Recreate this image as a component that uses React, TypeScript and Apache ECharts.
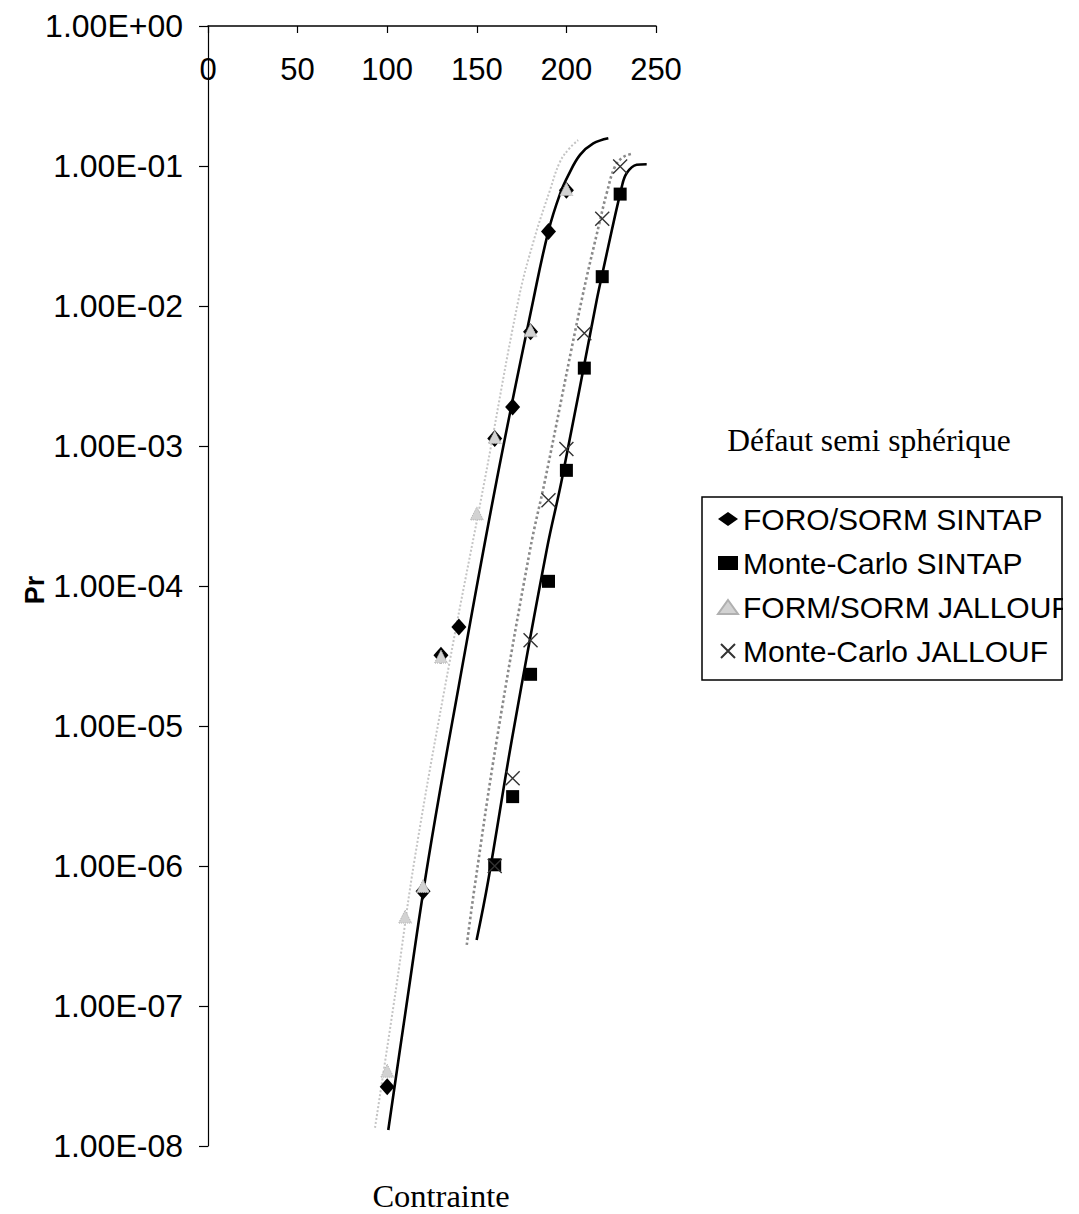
import React, { useEffect, useRef } from "react";
import * as echarts from "echarts";

// ---- Data ----
const seriesNames = [
  "FORO/SORM SINTAP",
  "Monte-Carlo SINTAP",
  "FORM/SORM JALLOUF",
  "Monte-Carlo JALLOUF",
];

const foroSintapX = [100, 120, 130, 140, 160, 170, 180, 190, 200];
const foroSintapY = [2.65e-8, 6.6e-7, 3.2e-5, 5.1e-5, 1.13e-3, 1.9e-3, 6.55e-3, 3.4e-2, 6.7e-2];

const mcSintapX = [160, 170, 180, 190, 200, 210, 220, 230];
const mcSintapY = [1.02e-6, 3.13e-6, 2.34e-5, 1.08e-4, 6.7e-4, 3.6e-3, 1.62e-2, 6.3e-2];

const formJallX = [100, 110, 120, 130, 150, 160, 180, 200];
const formJallY = [3.45e-8, 4.35e-7, 7.2e-7, 3.13e-5, 3.3e-4, 1.16e-3, 6.7e-3, 6.85e-2];

const mcJallX = [160, 170, 180, 190, 200, 210, 220, 230];
const mcJallY = [1.0e-6, 4.23e-6, 4.1e-5, 4.1e-4, 9.5e-4, 6.4e-3, 4.2e-2, 9.9e-2];

// trend curves
const trendForoSintapX = [100.6, 110, 122.9, 140, 161.1, 181.5, 189.9, 196.4, 201.1, 207.6, 215, 223.4];
const trendForoSintapY = [1.3e-8, 8.7e-8, 1.1e-6, 1.95e-5, 5.7e-4, 1.1e-2, 3.4e-2, 6.3e-2, 8.6e-2, 0.12, 0.145, 0.158];

const trendFormJallX = [93.2, 105, 115.5, 135, 154.4, 173.2, 182, 190.8, 196.4, 202, 206.6];
const trendFormJallY = [1.35e-8, 1.35e-7, 1.16e-6, 2.95e-5, 5.7e-4, 1.1e-2, 3.0e-2, 6.7e-2, 0.107, 0.135, 0.153];

const trendMcJallX = [144.4, 149, 161.1, 179.7, 188.1, 208.5, 218.8, 222.5, 227.1, 231.8, 237.3];
const trendMcJallY = [2.73e-7, 7.4e-7, 7.9e-6, 1.81e-4, 5.71e-4, 1.1e-2, 4.1e-2, 6.4e-2, 9.9e-2, 0.116, 0.123];

const trendMcSintapX = [149.9, 156.4, 169.5, 189.0, 197.4, 216.9, 219.7, 230.9, 233.7, 239.2, 244.8];
const trendMcSintapY = [2.96e-7, 7.9e-7, 7.9e-6, 1.81e-4, 5.71e-4, 1.1e-2, 1.62e-2, 7.1e-2, 8.9e-2, 0.102, 0.103];

const xMin = 0;
const xMax = 250;
const xStep = 50;
const yMin = 1e-8;
const yMax = 1;

const xTitle = "Contrainte";
const yTitle = "Pr";
const sideTitle = "Défaut semi sphérique";

const pairs = (xs: number[], ys: number[]) => xs.map((x, i) => [x, ys[i]]);

const fmtExp = (v: number) => {
  const e = Math.round(Math.log10(v));
  const sign = e < 0 ? "-" : "+";
  const a = Math.abs(e);
  return "1.00E" + sign + (a < 10 ? "0" + a : String(a));
};

const SANS = "'Liberation Sans', Arial, sans-serif";
const SERIF = "'Liberation Serif', 'Times New Roman', serif";

const X_PATH = "path://M0,0L10,10M10,0L0,10";

export default function App() {
  const ref = useRef<HTMLDivElement>(null);

  useEffect(() => {
    if (!ref.current) return;
    const chart = echarts.init(ref.current, undefined, { renderer: "svg" });

    const trendLine = (name: string, xs: number[], ys: number[], color: string, width: number, type: any) => ({
      name,
      type: "line",
      data: pairs(xs, ys),
      showSymbol: false,
      symbol: "none",
      smooth: 0.4,
      lineStyle: { color, width, type },
      silent: true,
      z: 1,
    });

    chart.setOption({
      animation: false,
      backgroundColor: "#ffffff",
      grid: { left: 208, top: 26, width: 448, height: 1120, containLabel: false },
      xAxis: {
        type: "value",
        position: "top",
        min: xMin,
        max: xMax,
        interval: xStep,
        axisLine: { show: true, onZero: false, lineStyle: { color: "#000", width: 1.5 } },
        axisTick: { show: true, inside: true, length: 7, lineStyle: { color: "#000", width: 1.2 } },
        axisLabel: {
          inside: true,
          margin: 28,
          color: "#000",
          fontFamily: SANS,
          fontSize: 31,
        },
        splitLine: { show: false },
      },
      yAxis: {
        type: "log",
        logBase: 10,
        min: yMin,
        max: yMax,
        interval: 1,
        axisLine: { show: true, onZero: false, lineStyle: { color: "#000", width: 1.2 } },
        axisTick: { show: true, inside: false, length: 9, lineStyle: { color: "#000", width: 1.2 } },
        minorTick: { show: false },
        axisLabel: {
          margin: 25,
          color: "#000",
          fontFamily: SANS,
          fontSize: 32,
          formatter: (v: number) => fmtExp(v),
        },
        splitLine: { show: false },
      },
      legend: {
        orient: "vertical",
        left: 717,
        top: 504,
        padding: 0,
        itemWidth: 20,
        itemHeight: 14,
        itemGap: 14,
        data: seriesNames,
        textStyle: { fontFamily: SANS, fontSize: 30, color: "#000", lineHeight: 30 },
        z: 10,
      },
      graphic: [
        {
          type: "rect",
          shape: { x: 702, y: 497, width: 360, height: 183 },
          style: { fill: "#fff", stroke: "#000", lineWidth: 1.5 },
          z: 0,
        },
        {
          type: "rect",
          shape: { x: 1063, y: 585, width: 16, height: 40 },
          style: { fill: "#fff" },
          z: 100,
        },
        {
          type: "text",
          x: 869,
          y: 440,
          style: { text: sideTitle, fontFamily: SERIF, fontSize: 31.5, fill: "#000", align: "center", verticalAlign: "middle" },
        },
        {
          type: "text",
          x: 441,
          y: 1196,
          style: { text: xTitle, fontFamily: SERIF, fontSize: 32.5, fill: "#000", align: "center", verticalAlign: "middle" },
        },
        {
          type: "text",
          x: 35,
          y: 590,
          rotation: Math.PI / 2,
          style: { text: yTitle, fontFamily: SANS, fontSize: 27, fontWeight: "bold", fill: "#000", align: "center", verticalAlign: "middle" },
        },
      ],
      series: [
        trendLine("trend-foro", trendForoSintapX, trendForoSintapY, "#000", 2.6, "solid"),
        trendLine("trend-formj", trendFormJallX, trendFormJallY, "#c4c4c4", 2, "dotted"),
        trendLine("trend-mcj", trendMcJallX, trendMcJallY, "#8a8a8a", 2.6, "dotted"),
        trendLine("trend-mcs", trendMcSintapX, trendMcSintapY, "#000", 2.6, "solid"),
        {
          name: seriesNames[0],
          type: "scatter",
          data: pairs(foroSintapX, foroSintapY),
          symbol: "diamond",
          symbolSize: [15, 17],
          itemStyle: { color: "#000", opacity: 1 },
          z: 3,
        },
        {
          name: seriesNames[1],
          type: "scatter",
          data: pairs(mcSintapX, mcSintapY),
          symbol: "rect",
          symbolSize: 13,
          itemStyle: { color: "#000", opacity: 1 },
          z: 3,
        },
        {
          name: seriesNames[2],
          type: "scatter",
          data: pairs(formJallX, formJallY),
          symbol: "triangle",
          symbolSize: 13,
          itemStyle: { color: "#d2d2d2", borderColor: "#b0b0b0", borderWidth: 1, borderType: "dotted", opacity: 1 },
          z: 4,
        },
        {
          name: seriesNames[3],
          type: "scatter",
          data: pairs(mcJallX, mcJallY),
          symbol: X_PATH,
          symbolSize: 14,
          itemStyle: { color: "transparent", borderColor: "#333", borderWidth: 1.4, opacity: 1 },
          z: 5,
        },
      ],
    });

    return () => chart.dispose();
  }, []);

  return (
    <div
      ref={ref}
      style={{ position: "absolute", left: 0, top: 0, width: 1079, height: 1214, background: "#fff" }}
    />
  );
}
